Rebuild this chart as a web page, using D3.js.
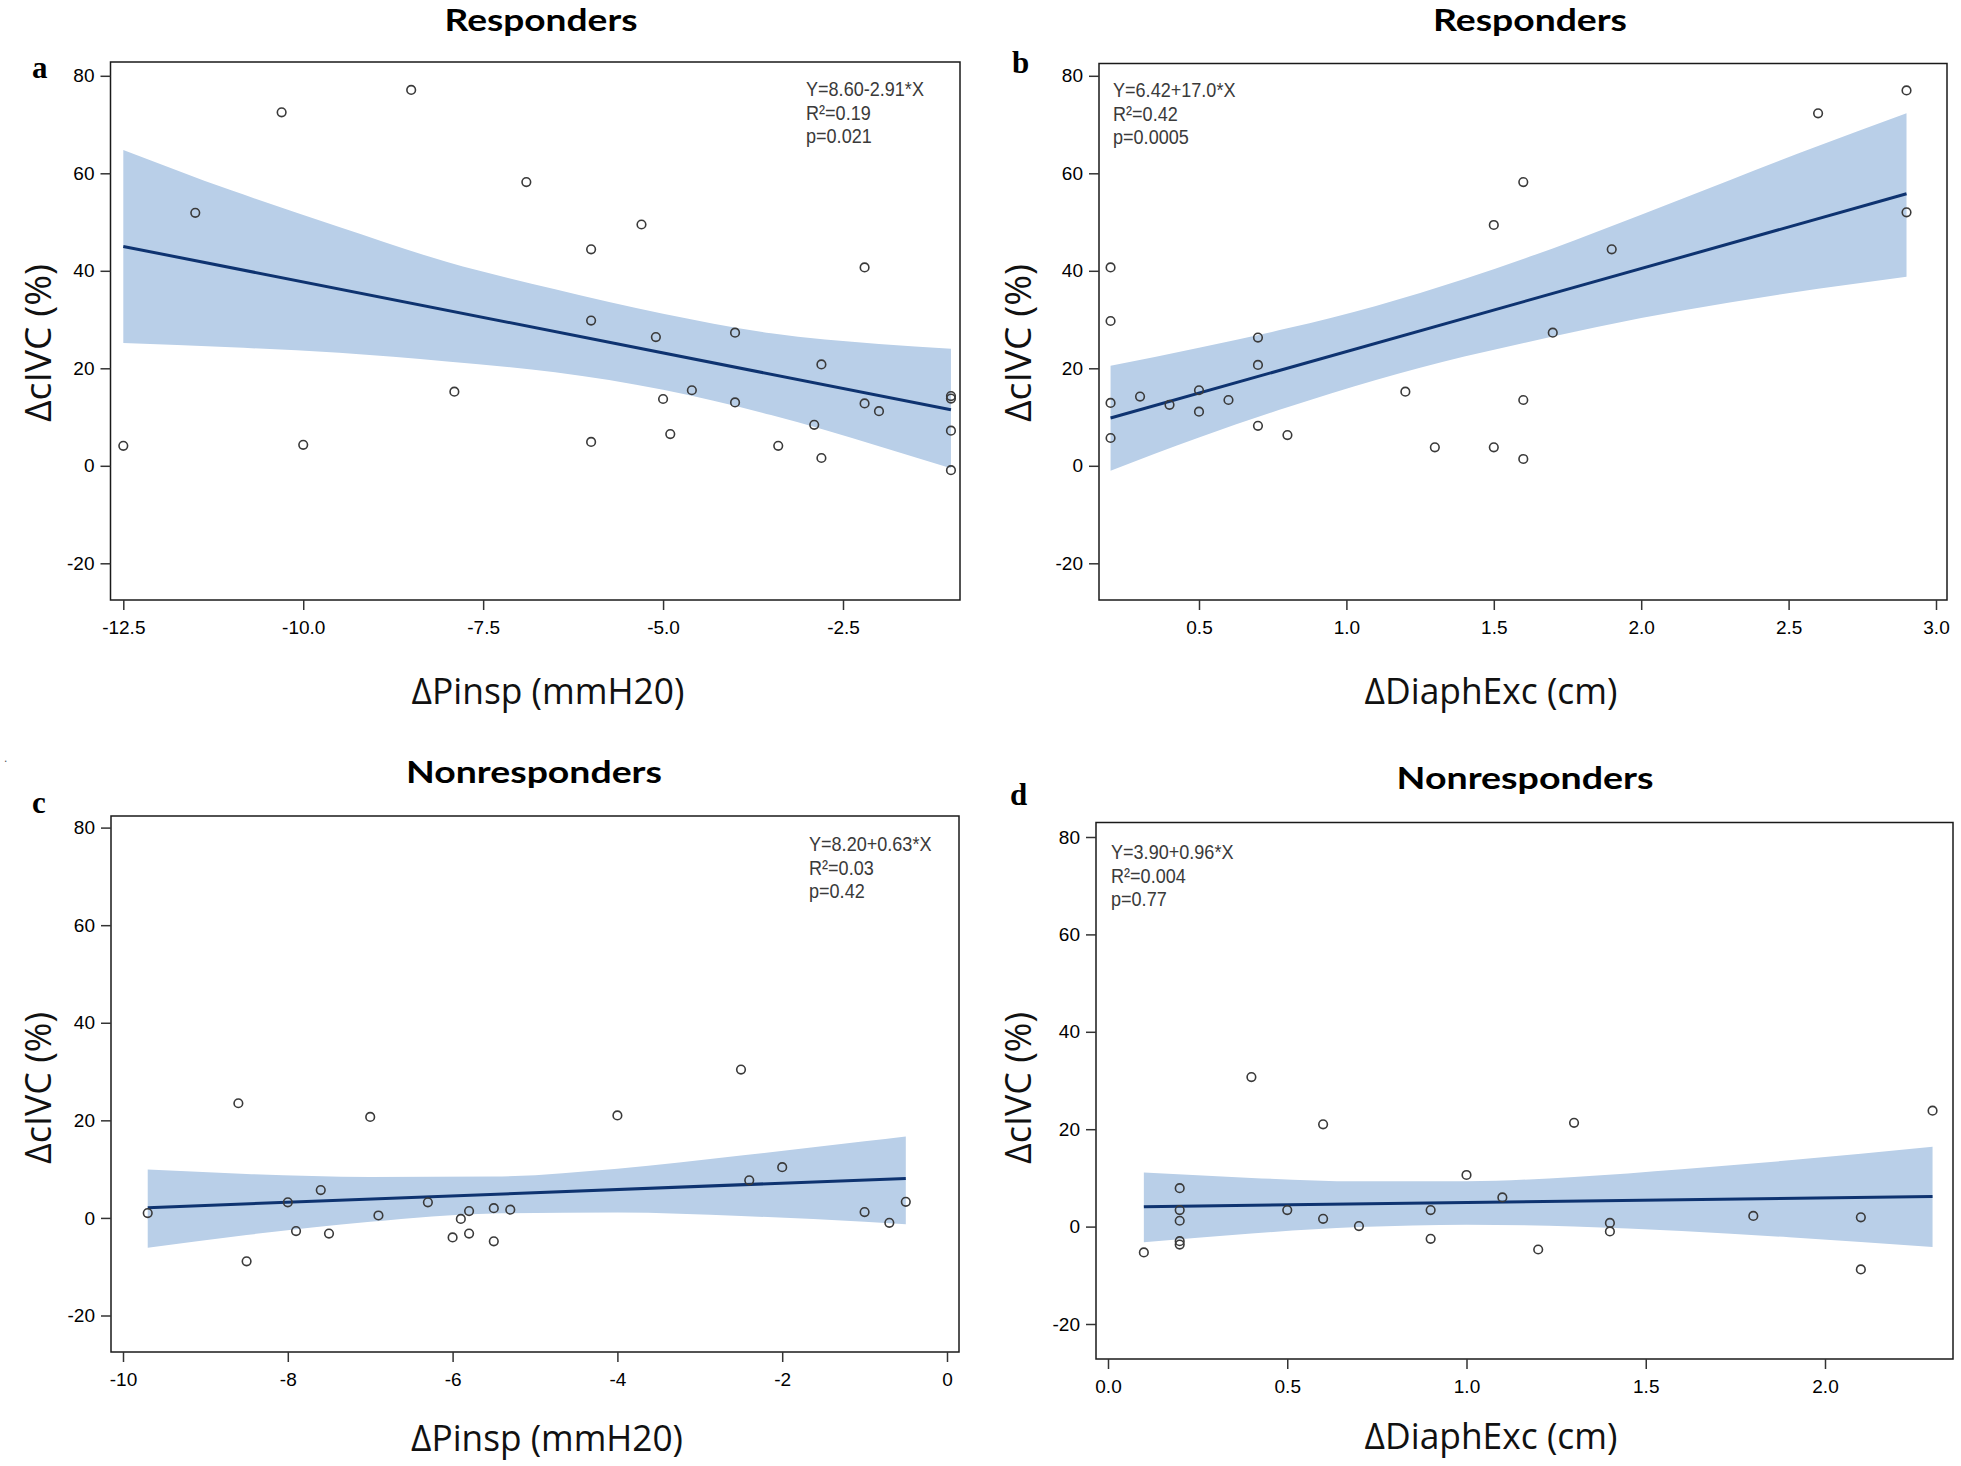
<!DOCTYPE html>
<html><head><meta charset="utf-8">
<script src="https://cdn.jsdelivr.net/npm/d3@7"></script>
<style>html,body{margin:0;padding:0;background:#fff;} svg{display:block}</style>
</head><body>
<svg id="chart" width="1961" height="1466"></svg>
<script>
// ================= DATA =================
const yTickValues = [-20, 0, 20, 40, 60, 80];
const yTickLabels = ["-20", "0", "20", "40", "60", "80"];

// Panel a: Responders, ΔPinsp vs ΔcIVC
const aX = [-12.5,-11.5,-10.3,-10,-8.5,-7.9,-6.9,-6,-6,-6,-5.3,-5.1,-5,-4.9,-4.6,-4,-4,-3.4,-2.9,-2.8,-2.8,-2.2,-2.2,-2,-1,-1,-1,-1];
const aY = [4.1,51.9,72.5,4.3,77.1,15.2,58.2,44.4,29.8,4.9,49.5,26.4,13.7,6.5,15.5,27.3,13.0,4.1,8.4,20.8,1.6,40.7,12.8,11.2,14.3,13.8,7.2,-0.9];
const aFitX = [-12.5, -1];
const aFitY = [45.0, 11.5];
const aBandX  = [-12.5, -11, -9.5, -8, -6.5, -5, -3.5, -2, -1];
const aBandHi = [64.8, 56.5, 49.0, 41.8, 36.2, 31.2, 27.2, 25.0, 24.0];
const aBandLo = [25.2, 24.3, 23.2, 21.4, 19.2, 15.6, 10.4, 4.0, -0.5];
const aXTicks = [-12.5, -10, -7.5, -5, -2.5];
const aXTickLabels = ["-12.5", "-10.0", "-7.5", "-5.0", "-2.5"];
const aStats = ["Y=8.60-2.91*X", "R²=0.19", "p=0.021"];

// Panel b: Responders, ΔDiaphExc vs ΔcIVC
const bX = [0.2,0.2,0.2,0.2,0.3,0.4,0.5,0.5,0.6,0.7,0.7,0.7,0.8,1.2,1.3,1.5,1.5,1.6,1.6,1.6,1.7,1.9,2.6,2.9,2.9];
const bY = [40.7,29.7,12.9,5.7,14.2,12.5,15.5,11.1,13.5,26.3,20.7,8.2,6.3,15.2,3.8,49.4,3.8,58.2,13.5,1.4,27.3,44.4,72.3,77.0,52.0];
const bFitX = [0.2, 2.9];
const bFitY = [9.8, 55.8];
const bBandX  = [0.2, 0.5, 0.8, 1.1, 1.4, 1.7, 2.0, 2.3, 2.6, 2.9];
const bBandHi = [20.5, 24.2, 28.2, 32.8, 38.3, 44.6, 51.5, 58.6, 65.6, 72.3];
const bBandLo = [-1.0, 5.8, 12.0, 17.6, 22.4, 26.5, 30.3, 33.5, 36.3, 38.8];
const bXTicks = [0.5, 1.0, 1.5, 2.0, 2.5, 3.0];
const bXTickLabels = ["0.5", "1.0", "1.5", "2.0", "2.5", "3.0"];
const bStats = ["Y=6.42+17.0*X", "R²=0.42", "p=0.0005"];

// Panel c: Nonresponders, ΔPinsp vs ΔcIVC
const cX = [-9.7,-8.6,-8.5,-8,-7.9,-7.6,-7.5,-7,-6.9,-6.3,-6,-5.9,-5.8,-5.8,-5.5,-5.5,-5.3,-4,-2.5,-2.4,-2,-1,-0.7,-0.5];
const cY = [1.0,23.5,-8.9,3.2,-2.7,5.7,-3.2,20.7,0.5,3.2,-4.0,-0.2,1.4,-3.2,2.0,-4.8,1.7,21.0,30.4,7.7,10.4,1.2,-1.0,3.3];
const cFitX = [-9.7, -0.5];
const cFitY = [2.1, 8.1];
const cBandX  = [-9.7, -8.5, -7, -5.5, -4, -2.5, -1, -0.5];
const cBandHi = [9.9, 9.0, 8.4, 8.5, 10.1, 12.8, 15.7, 16.7];
const cBandLo = [-6.1, -3.5, -0.8, 0.9, 1.1, 0.4, -0.8, -1.3];
const cXTicks = [-10, -8, -6, -4, -2, 0];
const cXTickLabels = ["-10", "-8", "-6", "-4", "-2", "0"];
const cStats = ["Y=8.20+0.63*X", "R²=0.03", "p=0.42"];

// Panel d: Nonresponders, ΔDiaphExc vs ΔcIVC
const dX = [0.1,0.2,0.2,0.2,0.2,0.2,0.4,0.5,0.6,0.6,0.7,0.9,0.9,1.0,1.1,1.2,1.3,1.4,1.4,1.8,2.1,2.1,2.3];
const dY = [-5.3,7.9,3.4,1.2,-3.0,-3.7,30.7,3.4,21.0,1.6,0.1,3.4,-2.5,10.6,6.0,-4.7,21.3,0.75,-1.0,2.2,1.9,-8.8,23.8];
const dFitX = [0.1, 2.3];
const dFitY = [4.1, 6.2];
const dBandX  = [0.1, 0.4, 0.7, 1.0, 1.3, 1.6, 1.9, 2.3];
const dBandHi = [11.1, 10.0, 9.3, 9.3, 10.2, 11.8, 13.6, 16.4];
const dBandLo = [-3.2, -1.4, -0.1, 0.4, 0.0, -0.9, -2.2, -4.2];
const dXTicks = [0, 0.5, 1.0, 1.5, 2.0];
const dXTickLabels = ["0.0", "0.5", "1.0", "1.5", "2.0"];
const dStats = ["Y=3.90+0.96*X", "R²=0.004", "p=0.77"];

const titles = ["Responders", "Responders", "Nonresponders", "Nonresponders"];
const letters = ["a", "b", "c", "d"];
const xLabels = ["ΔPinsp (mmH20)", "ΔDiaphExc (cm)", "ΔPinsp (mmH20)", "ΔDiaphExc (cm)"];
const yLabel = "ΔcIVC (%)";

// ================= LAYOUT =================
const panels = [
  { xs:aX, ys:aY, fitX:aFitX, fitY:aFitY, bx:aBandX, bh:aBandHi, bl:aBandLo, xt:aXTicks, xtl:aXTickLabels, stats:aStats,
    box:{l:110.5,t:62,r:960,b:600}, xd:[-12.5,-2.5], xr:[123.3,843], yr:[563.3,75.8],
    title:{x:541,y:31,w:193}, letter:{x:32,y:78}, xlab:{x:548,y:704,w:273}, ylab:{x:51,y:343,w:158},
    stat:{x:806,y:96} },
  { xs:bX, ys:bY, fitX:bFitX, fitY:bFitY, bx:bBandX, bh:bBandHi, bl:bBandLo, xt:bXTicks, xtl:bXTickLabels, stats:bStats,
    box:{l:1099,t:63.5,r:1947,b:600}, xd:[0.5,3.0], xr:[1199,1936], yr:[563.3,75.8],
    title:{x:1530,y:31,w:194}, letter:{x:1012,y:73}, xlab:{x:1491,y:704,w:253}, ylab:{x:1031,y:343,w:158},
    stat:{x:1113,y:97} },
  { xs:cX, ys:cY, fitX:cFitX, fitY:cFitY, bx:cBandX, bh:cBandHi, bl:cBandLo, xt:cXTicks, xtl:cXTickLabels, stats:cStats,
    box:{l:111,t:816,r:959,b:1352}, xd:[-10,0], xr:[123,947], yr:[1315.5,827.6],
    title:{x:534,y:783,w:256}, letter:{x:32,y:813}, xlab:{x:547,y:1451,w:272}, ylab:{x:51,y:1088,w:152},
    stat:{x:809,y:851} },
  { xs:dX, ys:dY, fitX:dFitX, fitY:dFitY, bx:dBandX, bh:dBandHi, bl:dBandLo, xt:dXTicks, xtl:dXTickLabels, stats:dStats,
    box:{l:1096,t:822.5,r:1953,b:1359}, xd:[0,2], xr:[1108,1825], yr:[1324,837],
    title:{x:1525,y:789,w:257}, letter:{x:1010,y:805}, xlab:{x:1491,y:1449,w:253}, ylab:{x:1031,y:1088,w:152},
    stat:{x:1111,y:859} }
];

const svg = d3.select("#chart");
const BAND = "#b9cfe8", LINE = "#0e3370", PT = "#3a3a3a";
const UI = "'Open Sans', 'Noto Sans', sans-serif";
const TITLEF = "Lato, 'Open Sans', sans-serif";
const TICKF = "'Liberation Sans', Arial, sans-serif";

// place a text at (x,y) with a fixed font size and stretch it horizontally to a target width
function placeScaled(t, x, y, size, target, rot) {
  t.attr("text-anchor", "middle").style("font-size", size + "px");
  const w = t.node().getComputedTextLength();
  const s = w > 0 ? target / w : 1;
  t.attr("transform", `translate(${x},${y})${rot ? " rotate(" + rot + ")" : ""} scale(${s},1)`);
}

// stray dot in the original figure
svg.append("text").attr("x", 4).attr("y", 762).text(".")
  .style("font-family", TICKF).style("font-size", "12px").attr("fill", "#555");

panels.forEach((p, i) => {
  const g = svg.append("g");
  const x = d3.scaleLinear().domain(p.xd).range(p.xr);
  const y = d3.scaleLinear().domain([-20, 80]).range(p.yr);
  const B = p.box;

  const clipId = "clip" + i;
  g.append("clipPath").attr("id", clipId).append("rect")
    .attr("x", B.l).attr("y", B.t).attr("width", B.r - B.l).attr("height", B.b - B.t);

  // confidence band
  const bandData = p.bx.map((v, k) => ({x: v, hi: p.bh[k], lo: p.bl[k]}));
  const area = d3.area().x(d => x(d.x)).y0(d => y(d.lo)).y1(d => y(d.hi)).curve(d3.curveMonotoneX);
  g.append("path").datum(bandData).attr("d", area).attr("fill", BAND).attr("clip-path", `url(#${clipId})`);

  // regression line
  const fit = p.fitX.map((v, k) => ({x: v, y: p.fitY[k]}));
  g.append("path").datum(fit)
    .attr("d", d3.line().x(d => x(d.x)).y(d => y(d.y)))
    .attr("fill", "none").attr("stroke", LINE).attr("stroke-width", 3);

  // points
  const pts = p.xs.map((v, k) => ({x: v, y: p.ys[k]}));
  g.selectAll("circle.pt").data(pts).join("circle").attr("class", "pt")
    .attr("cx", d => x(d.x)).attr("cy", d => y(d.y)).attr("r", 4.3)
    .attr("fill", "none").attr("stroke", PT).attr("stroke-width", 1.6);

  // frame
  g.append("rect").attr("x", B.l).attr("y", B.t).attr("width", B.r - B.l).attr("height", B.b - B.t)
    .attr("fill", "none").attr("stroke", "#1a1a1a").attr("stroke-width", 1.5);

  // y axis
  const yAxis = d3.axisLeft(y).tickValues(yTickValues).tickFormat((d, k) => yTickLabels[k])
    .tickSize(10).tickPadding(6);
  const ya = g.append("g").attr("transform", `translate(${B.l},0)`).call(yAxis);
  ya.select(".domain").remove();
  ya.selectAll(".tick line").attr("stroke", "#333").attr("stroke-width", 1.5);
  ya.selectAll(".tick text").style("font-family", TICKF).style("font-size", "19px").attr("fill", "#000");

  // x axis
  const xAxis = d3.axisBottom(x).tickValues(p.xt).tickFormat((d, k) => p.xtl[k])
    .tickSize(10).tickPadding(11);
  const xa = g.append("g").attr("transform", `translate(0,${B.b})`).call(xAxis);
  xa.select(".domain").remove();
  xa.selectAll(".tick line").attr("stroke", "#333").attr("stroke-width", 1.5);
  xa.selectAll(".tick text").style("font-family", TICKF).style("font-size", "19px").attr("fill", "#000");

  // stats text
  p.stats.forEach((s, k) => {
    g.append("text").attr("transform", `translate(${p.stat.x},${p.stat.y + k * 23.5}) scale(0.86,1)`)
      .text(s).style("font-family", TICKF).style("font-size", "21px").attr("fill", "#3a3a3a");
  });

  // title
  const tt = g.append("text").text(titles[i]).style("font-family", TITLEF)
    .style("font-weight", "700").attr("fill", "#000");
  placeScaled(tt, p.title.x, p.title.y, 31, p.title.w);

  // panel letter
  g.append("text").attr("x", p.letter.x).attr("y", p.letter.y).text(letters[i])
    .style("font-family", "'Liberation Serif', 'Times New Roman', serif").style("font-weight", "700")
    .style("font-size", "31px").attr("fill", "#000");

  // x label
  const xl = g.append("text").text(xLabels[i]).style("font-family", UI).attr("fill", "#111");
  placeScaled(xl, p.xlab.x, p.xlab.y, 37, p.xlab.w);

  // y label
  const yl = g.append("text").text(yLabel).style("font-family", UI).attr("fill", "#111");
  placeScaled(yl, p.ylab.x, p.ylab.y, 37, p.ylab.w, -90);
});
</script>
</body></html>
